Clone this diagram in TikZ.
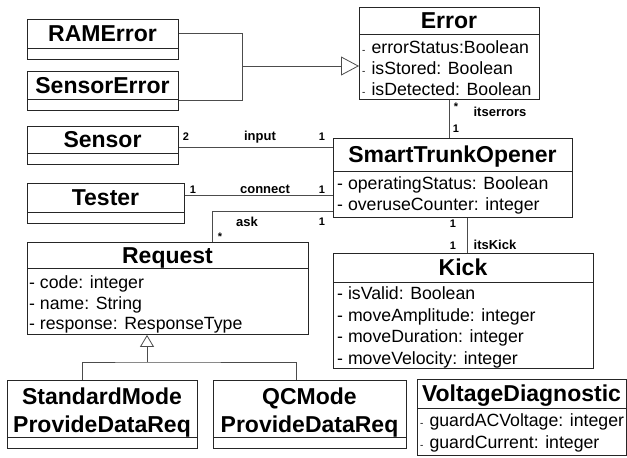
\documentclass[tikz,border=0pt]{standalone}
\usepackage{fontspec}
\setmainfont{Liberation Sans}
\usetikzlibrary{arrows.meta}

\tikzset{
  x=1pt, y=-1pt,
  umlbox/.style={draw=black!85, line width=0.9pt, inner sep=0pt, anchor=north west, fill=white},
  divline/.style={draw=black!85, line width=0.9pt},
  conn/.style={draw=black!70, line width=0.8pt},
  title/.style={inner sep=0pt, font=\fontsize{23}{25}\selectfont\bfseries, text height=16.5pt, text depth=0pt},
  attr/.style={inner sep=0pt, anchor=west, font=\fontsize{17.7}{20}\selectfont, text height=12.7pt, text depth=0pt},
  lbl/.style={inner sep=0pt, font=\fontsize{13}{15}\selectfont\bfseries, text height=9.4pt, text depth=0pt},
  mult/.style={inner sep=0pt, font=\fontsize{11}{13}\selectfont\bfseries, text height=7.9pt, text depth=0pt},
}

% class box: name, left, top, right, bottom, y of the name/attribute divider
\newcommand\umlbox[6]{%
  \node[umlbox, minimum width={#4-#2}, minimum height={#5-#3}] (#1) at (#2,#3) {};
  \draw[divline] (#1.west |- 0,#6) -- (#1.east |- 0,#6);
}
% small dash used in front of some attributes
\newcommand\smdash{{\fontsize{10}{12}\selectfont-}\hspace{6pt}}

\begin{document}
\begin{tikzpicture}
\useasboundingbox (0,0) rectangle (627,458);

% ---- classes ----
\umlbox{ram}{27}{19}{178}{59}{48}
\node[title] (ramT) at (102.5,33.5) {RAMError};

\umlbox{senerr}{27}{71}{178}{110}{99}
\node[title] (senerrT) at (102.5,85) {SensorError};

\umlbox{err}{359}{7}{539}{99}{34}
\node[title] (errT) at (449,20.5) {Error};
\node[attr] (errA) at (362,47) {\smdash errorStatus:Boolean};
\node[attr] (errB) at (362,68) {\smdash isStored: Boolean};
\node[attr] (errC) at (362,89) {\smdash isDetected: Boolean};

\umlbox{sensor}{27}{126}{178}{164}{153}
\node[title] (sensorT) at (102.5,139.5) {Sensor};

\umlbox{tester}{27}{183}{184}{223}{212}
\node[title] (testerT) at (105.5,197.5) {Tester};

\umlbox{sto}{333}{138}{572}{217}{171}
\node[title] (stoT) at (452.5,154.5) {SmartTrunkOpener};
\node[attr] (stoA) at (337,183) {- operatingStatus: Boolean};
\node[attr] (stoB) at (337,204) {- overuseCounter: integer};

\umlbox{req}{27}{242}{308}{334}{268}
\node[title] (reqT) at (167.5,255) {Request};
\node[attr] (reqA) at (29,282) {- code: integer};
\node[attr] (reqB) at (29,303) {- name: String};
\node[attr] (reqC) at (29,323) {- response: ResponseType};

\umlbox{kick}{333}{253}{593}{368}{282}
\node[title] (kickT) at (463,267.5) {Kick};
\node[attr] (kickA) at (337,293) {- isValid: Boolean};
\node[attr] (kickB) at (337,315) {- moveAmplitude: integer};
\node[attr] (kickC) at (337,336) {- moveDuration: integer};
\node[attr] (kickD) at (337,358) {- moveVelocity: integer};

\umlbox{std}{7}{380}{197}{448}{437}
\node[title] (stdT1) at (102,396) {StandardMode};
\node[title] (stdT2) at (102,424) {ProvideDataReq};

\umlbox{qc}{213}{380}{406}{448}{437}
\node[title] (qcT1) at (309.5,396) {QCMode};
\node[title] (qcT2) at (309.5,424) {ProvideDataReq};

\umlbox{volt}{417}{379}{626}{455}{408}
\node[title] (voltT) at (521.5,393.5) {VoltageDiagnostic};
\node[attr] (voltA) at (420,420) {\smdash guardACVoltage: integer};
\node[attr] (voltB) at (420,442) {\smdash guardCurrent: integer};

% ---- generalization of the error kinds ----
\coordinate (gj) at (242,66);
\draw[conn] (ram.east |- 0,33) -| (gj);
\draw[conn] (senerr.east |- 0,100) -| (gj);
\draw[conn, -{Triangle[open, length=18pt, width=19pt, line width=0.8pt]}] (gj) -- (err.west |- gj);

% ---- generalization of the requests ----
\coordinate (rj) at (147,362);
\draw[conn, -{Triangle[open, length=12pt, width=14pt, line width=0.8pt]}] (rj) -- (req.south -| rj);
\draw[conn] (std.north -| 82,0) |- (rj) -| (qc.north -| 296,0);

% ---- associations ----
\draw[conn] (err.south) -- (err.south |- sto.north);
\node[mult] (m1) at (456,107) {*};
\node[lbl]  (l1) at (500,112) {itserrors};
\node[mult] (m2) at (456,129) {1};

\draw[conn] (sensor.east |- 0,147) -- (sto.west |- 0,147);
\node[mult] (m3) at (186,137) {2};
\node[lbl]  (l2) at (260,136) {input};
\node[mult] (m4) at (322,137) {1};

\draw[conn] (tester.east |- 0,195) -- (sto.west |- 0,195);
\node[mult] (m5) at (193,190) {1};
\node[lbl]  (l3) at (265,189) {connect};
\node[mult] (m6) at (322,190) {1};

\draw[conn] (sto.west |- 0,211) -| (req.north -| 212,0);
\node[lbl]  (l4) at (247,222) {ask};
\node[mult] (m7) at (322,222) {1};
\node[mult] (m8) at (220,237) {*};

\draw[conn] (sto.south -| 467,0) -- (kick.north -| 467,0);
\node[mult] (m9) at (453,224) {1};
\node[mult] (m10) at (453,245.5) {1};
\node[lbl]  (l5) at (495,245) {itsKick};

\end{tikzpicture}
\end{document}
